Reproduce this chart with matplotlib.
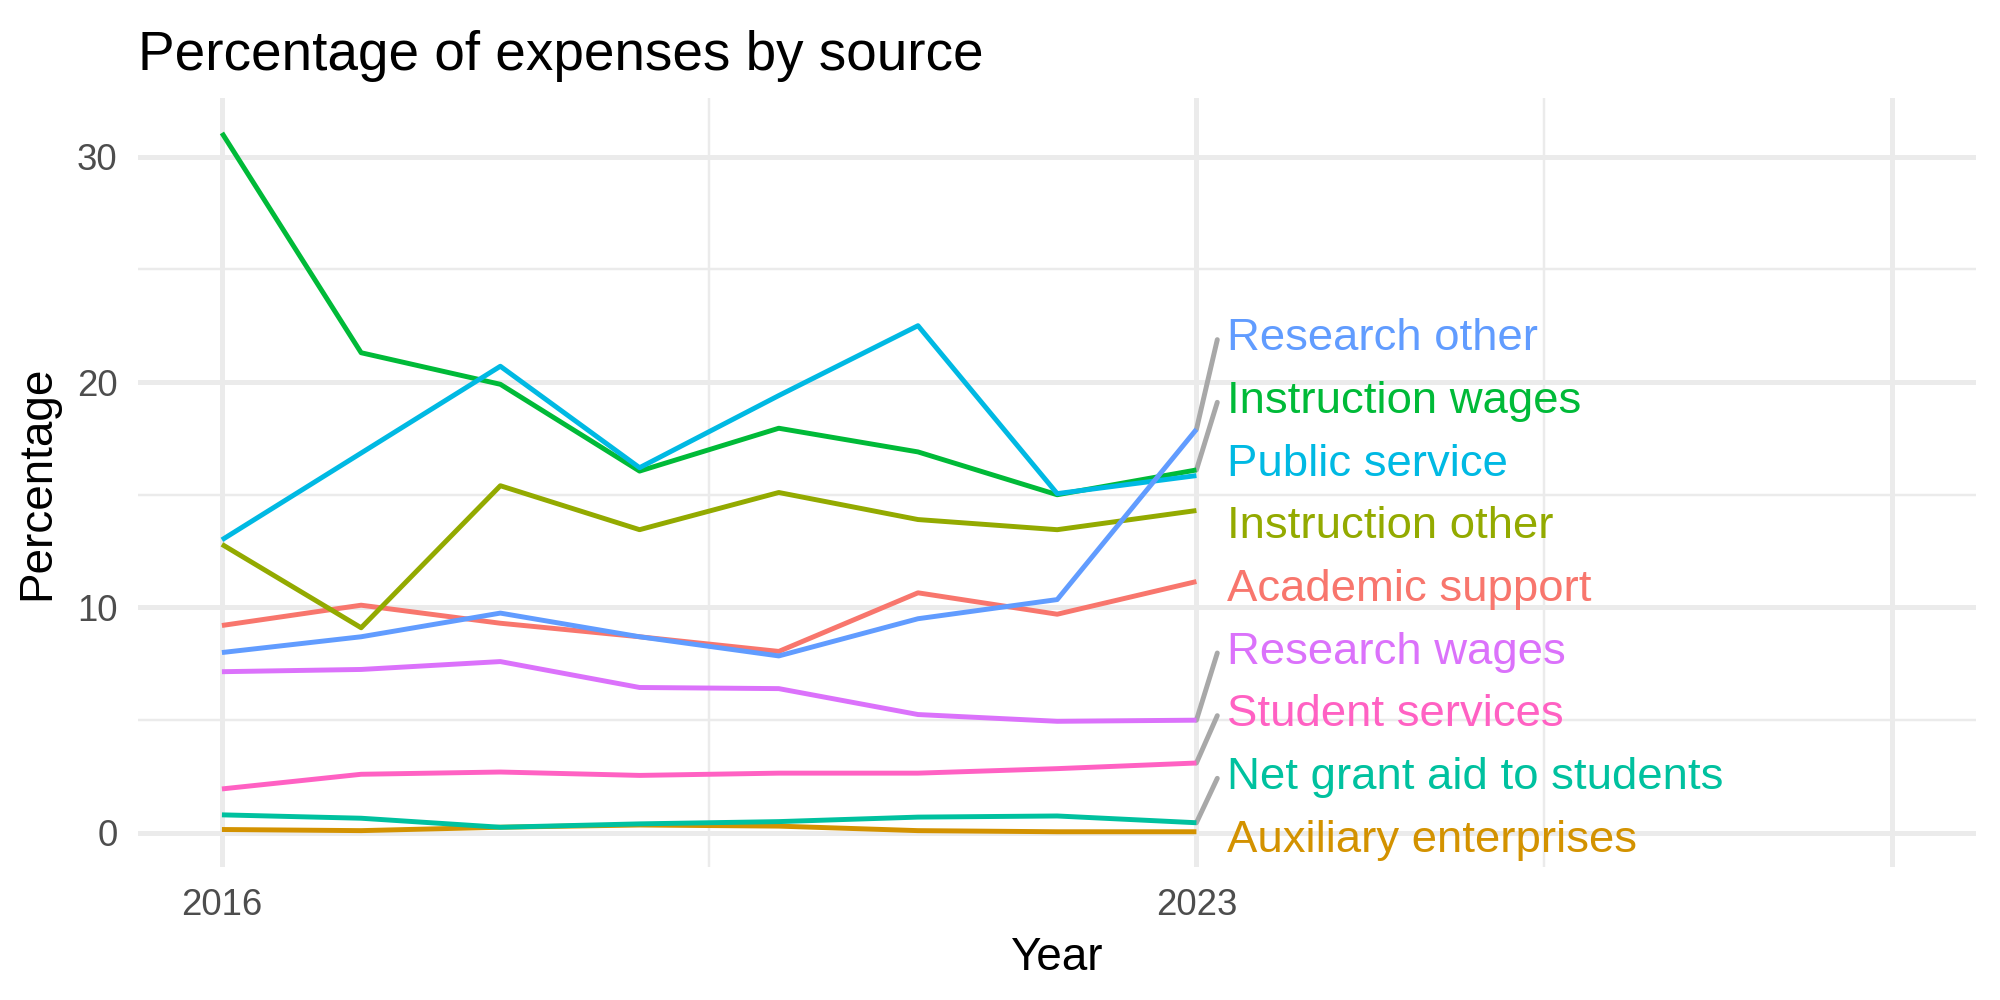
import numpy as np
import matplotlib.pyplot as plt
from matplotlib import transforms

plt.rcParams['font.family'] = ['Liberation Sans', 'DejaVu Sans']

years = [2016, 2017, 2018, 2019, 2020, 2021, 2022, 2023]

academic_support = [9.2, 10.1, 9.3, 8.7, 8.05, 10.65, 9.7, 11.15]
auxiliary_enterprises = [0.15, 0.1, 0.25, 0.35, 0.3, 0.1, 0.05, 0.05]
instruction_other = [12.8, 9.1, 15.4, 13.45, 15.1, 13.9, 13.45, 14.3]
instruction_wages = [31.05, 21.3, 19.9, 16.05, 17.95, 16.9, 15.0, 16.1]
net_grant_aid = [0.8, 0.65, 0.25, 0.4, 0.5, 0.7, 0.75, 0.45]
public_service = [13.0, 16.85, 20.7, 16.2, 19.4, 22.5, 15.05, 15.85]
research_other = [8.0, 8.7, 9.75, 8.7, 7.85, 9.5, 10.35, 17.9]
research_wages = [7.15, 7.25, 7.6, 6.45, 6.4, 5.25, 4.95, 5.0]
student_services = [1.95, 2.6, 2.7, 2.55, 2.65, 2.65, 2.85, 3.1]

sources = ['Academic support', 'Auxiliary enterprises', 'Instruction other',
           'Instruction wages', 'Net grant aid to students', 'Public service',
           'Research other', 'Research wages', 'Student services']
series = [academic_support, auxiliary_enterprises, instruction_other,
          instruction_wages, net_grant_aid, public_service,
          research_other, research_wages, student_services]

# ggplot default hue palette, 9 levels
palette = ['#F8766D', '#D39200', '#93AA00', '#00BA38', '#00C19F',
           '#00B9E3', '#619CFF', '#DB72FB', '#FF61C3']

x_major = [2016, 2023, 2028]
x_minor = [2019.5, 2025.5]
x_labels = ['2016', '2023', '']
y_major = [0, 10, 20, 30]
y_minor = [5, 15, 25]

LABEL_SIZE = 13.1
LABEL_GAP = 2.78      # vertical spacing between repelled labels (data units)
LABEL_DX = 0.22       # label offset to the right of last point
SEG_DX = 0.15


def spread_labels(ends, gap, floor):
    # 1-d repel: keep labels as close as possible to ends with a minimum gap
    ends = np.asarray(ends, dtype=float)
    order = np.argsort(ends)
    w = [ends[i] - k * gap for k, i in enumerate(order)]
    blocks = []
    for val in w:
        blocks.append([val, 1])
        while len(blocks) > 1 and blocks[-2][0] / blocks[-2][1] > blocks[-1][0] / blocks[-1][1]:
            s, c = blocks.pop()
            blocks[-1][0] += s
            blocks[-1][1] += c
    z = []
    for s, c in blocks:
        z += [max(s / c, floor)] * c
    pos = np.empty(len(ends))
    for k, i in enumerate(order):
        pos[i] = z[k] + k * gap
    return pos


fig = plt.figure(figsize=(8, 4), dpi=250)
ax = fig.add_axes([0.0692, 0.1333, 0.9188, 0.7687])

for s in ax.spines.values():
    s.set_visible(False)

all_vals = np.concatenate([np.asarray(v) for v in series])
lo, hi = all_vals.min(), all_vals.max()
pad = 0.05 * (hi - lo)
ax.set_ylim(lo - pad, hi + pad)
xpad = 0.05 * (x_major[-1] - x_major[0])
ax.set_xlim(x_major[0] - xpad, x_major[-1] + xpad)

ax.set_xticks(x_major)
ax.set_xticklabels(x_labels)
ax.set_xticks(x_minor, minor=True)
ax.set_yticks(y_major)
ax.set_yticks(y_minor, minor=True)
ax.grid(which='major', color='#EBEBEB', linewidth=1.42)
ax.grid(which='minor', color='#EBEBEB', linewidth=0.71)
ax.set_axisbelow(True)
ax.tick_params(which='both', length=0, pad=6, labelsize=10.5, labelcolor='#4D4D4D')

for name, vals, col in zip(sources, series, palette):
    ax.plot(years, vals, color=col, linewidth=1.42, solid_joinstyle='round',
            solid_capstyle='butt', zorder=3)

ends = [v[-1] for v in series]
floor = ax.get_ylim()[0] + LABEL_GAP / 2
label_y = spread_labels(ends, LABEL_GAP, floor)

text_tr = transforms.offset_copy(ax.transData, fig=fig, y=-LABEL_SIZE * 0.716 / 2, units='points')
for name, end, ly, col in zip(sources, ends, label_y, palette):
    if abs(ly - end) > 1.5:
        ax.plot([years[-1], years[-1] + SEG_DX], [end, ly - 0.25 * np.sign(ly - end)],
                color='#A8A8A8', linewidth=1.42, solid_capstyle='round', zorder=2,
                clip_on=False)
    ax.text(years[-1] + LABEL_DX, ly, name, color=col, fontsize=LABEL_SIZE,
            ha='left', va='baseline', transform=text_tr, clip_on=False)

ax.set_title('Percentage of expenses by source', loc='left', fontsize=15.8, pad=8)
ax.set_xlabel('Year', fontsize=13.2, labelpad=4)
ax.set_ylabel('Percentage', fontsize=13.2, labelpad=5)

fig.savefig('out.png', dpi=250, facecolor='white')
